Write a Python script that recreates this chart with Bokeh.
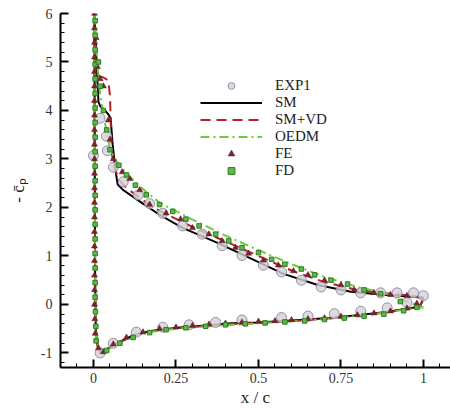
from bokeh.plotting import figure
from bokeh.models import Range1d, SingleIntervalTicker, Legend, LegendItem
from bokeh.embed import file_html
from bokeh.resources import INLINE

# ---- data ----
# SM (solid black): pressure side TE->LE, then suction side LE->TE
sm_x = [1.0, 0.99, 0.95, 0.88, 0.8, 0.73, 0.65, 0.576, 0.5, 0.42, 0.35, 0.27, 0.2, 0.17, 0.12, 0.07, 0.045,
        0.03, 0.02, 0.012, 0.007, 0.005, 0.004, 0.003,
        0.008, 0.012, 0.015, 0.021, 0.035, 0.045, 0.052, 0.058, 0.066, 0.073, 0.09, 0.12, 0.15, 0.2, 0.27,
        0.376, 0.476, 0.576, 0.68, 0.78, 0.88, 0.95, 1.0]
sm_cp = [0.14, -0.04, -0.09, -0.16, -0.22, -0.27, -0.31, -0.34, -0.37, -0.39, -0.43, -0.47, -0.52, -0.55, -0.64, -0.8, -0.9,
         -1.0, -0.99, -0.85, -0.5, 0.5, 2.5, 6.0,
         5.2, 4.6, 4.18, 4.08, 4.0, 3.92, 3.84, 3.3, 2.8, 2.48, 2.36, 2.22, 2.08, 1.85, 1.58,
         1.27, 0.95, 0.63, 0.40, 0.26, 0.2, 0.17, 0.14]

# SM+VD (red dashed)
vd_x = [1.0, 0.99, 0.95, 0.88, 0.8, 0.73, 0.65, 0.576, 0.5, 0.42, 0.35, 0.27, 0.2, 0.17, 0.12, 0.07, 0.045,
        0.03, 0.02, 0.012, 0.007, 0.005, 0.004, 0.002,
        0.006, 0.012, 0.02, 0.03, 0.045, 0.05, 0.053, 0.056, 0.06, 0.07, 0.08, 0.1, 0.13, 0.17, 0.2, 0.3,
        0.4, 0.5, 0.6, 0.7, 0.8, 0.9, 0.97, 1.0]
vd_cp = [0.12, -0.03, -0.1, -0.17, -0.23, -0.28, -0.32, -0.35, -0.38, -0.4, -0.44, -0.48, -0.53, -0.56, -0.65, -0.81, -0.91,
         -0.99, -0.98, -0.84, -0.5, 0.5, 2.5, 6.0,
         5.3, 4.75, 4.7, 4.68, 4.62, 4.3, 3.6, 3.1, 2.9, 2.7, 2.55, 2.4, 2.25, 2.05, 1.93, 1.6,
         1.3, 1.0, 0.7, 0.46, 0.3, 0.22, 0.18, 0.12]

# OEDM (green dash-dot)
oe_x = [1.0, 0.93, 0.85, 0.75, 0.65, 0.55, 0.45, 0.35, 0.25, 0.17, 0.12, 0.08, 0.05, 0.035, 0.025, 0.015,
        0.009, 0.006, 0.004, 0.003,
        0.008, 0.015, 0.03, 0.045, 0.05, 0.07, 0.1, 0.13, 0.16, 0.2, 0.3, 0.4, 0.5, 0.6, 0.7, 0.8, 0.88,
        0.95, 1.0]
oe_cp = [-0.06, -0.12, -0.2, -0.27, -0.33, -0.37, -0.41, -0.45, -0.5, -0.57, -0.66, -0.78, -0.9, -0.97, -1.0, -0.95,
         -0.7, -0.2, 2.0, 6.0,
         5.5, 4.6, 3.9, 3.4, 3.2, 2.95, 2.7, 2.5, 2.32, 2.1, 1.75, 1.42, 1.12, 0.83, 0.57, 0.36, 0.24,
         0.06, -0.06]

# EXP1 (circles)
exp_x = [0.0, 0.02, 0.039, 0.042, 0.06, 0.09, 0.136, 0.17, 0.21, 0.27, 0.33, 0.39, 0.45, 0.515, 0.57, 0.63,
         0.69, 0.75, 0.81, 0.87, 0.92, 0.97, 1.0,
         0.02, 0.06, 0.13, 0.21, 0.29, 0.37, 0.45, 0.57, 0.65, 0.73, 0.81, 0.89, 0.95]
exp_cp = [3.07, 3.84, 3.47, 3.17, 2.83, 2.53, 2.26, 2.08, 1.88, 1.62, 1.45, 1.21, 1.01, 0.81, 0.67, 0.5,
          0.36, 0.3, 0.24, 0.24, 0.24, 0.24, 0.18,
          -1.0, -0.8, -0.57, -0.47, -0.42, -0.37, -0.32, -0.27, -0.24, -0.19, -0.14, -0.07, 0.04]

# FE (triangles)
fe_x = [0.003, 0.003, 0.003, 0.003, 0.003, 0.003, 0.003, 0.003, 0.003, 0.003, 0.003, 0.003, 0.003, 0.003,
        0.003, 0.003, 0.003, 0.003, 0.003, 0.003, 0.003, 0.004, 0.005,
        0.008, 0.012, 0.02, 0.03, 0.045, 0.05,
        0.06, 0.087, 0.11, 0.14, 0.17, 0.22, 0.264, 0.30, 0.35, 0.39, 0.43, 0.47, 0.515, 0.56, 0.606,
        0.65, 0.70, 0.75, 0.79, 0.85, 0.9, 0.95,
        0.015, 0.03, 0.06, 0.1, 0.15, 0.2, 0.25, 0.3, 0.35, 0.4, 0.45, 0.5, 0.55, 0.6, 0.65, 0.7, 0.75,
        0.8, 0.85, 0.9, 0.95, 0.98]
fe_cp = [6.0, 5.7, 5.4, 5.1, 4.8, 4.5, 4.2, 3.9, 3.6, 3.3, 3.0, 2.7, 2.4, 2.1,
         1.8, 1.5, 1.2, 0.9, 0.6, 0.3, 0.0, -0.3, -0.6,
         5.5, 4.9, 4.65, 4.5, 3.8, 3.4,
         3.0, 2.73, 2.59, 2.36, 2.06, 1.88, 1.76, 1.58, 1.45, 1.31, 1.17, 1.05, 0.91, 0.81, 0.69,
         0.61, 0.5, 0.4, 0.3, 0.24, 0.2, 0.18,
         -0.9, -0.98, -0.82, -0.68, -0.57, -0.5, -0.47, -0.44, -0.41, -0.39, -0.37, -0.35, -0.34, -0.32, -0.3, -0.28, -0.25,
         -0.22, -0.18, -0.14, -0.08, 0.02]

# FD (squares)
fd_x = [0.005, 0.005, 0.005, 0.005, 0.005, 0.005, 0.005, 0.005, 0.005, 0.005, 0.005, 0.005, 0.005, 0.005,
        0.005, 0.005, 0.005, 0.005, 0.005, 0.005, 0.006, 0.007, 0.008,
        0.015, 0.02, 0.03, 0.04, 0.05, 0.077, 0.1, 0.127, 0.16,
        0.2, 0.24, 0.28, 0.32, 0.37, 0.41, 0.45, 0.5, 0.54, 0.58, 0.63, 0.67, 0.72, 0.77, 0.82, 0.87,
        0.93, 0.98,
        0.04, 0.08, 0.12, 0.17, 0.22, 0.28, 0.34, 0.4, 0.46, 0.52, 0.58, 0.64, 0.7, 0.76, 0.82, 0.88, 0.94]
fd_cp = [5.85, 5.55, 5.25, 4.95, 4.65, 4.35, 4.05, 3.75, 3.45, 3.15, 2.85, 2.55, 2.25, 1.95,
         1.65, 1.35, 1.05, 0.75, 0.45, 0.15, -0.15, -0.45, -0.75,
         5.0, 4.5, 4.0, 3.6, 3.19, 2.87, 2.67, 2.46, 2.26,
         2.06, 1.92, 1.76, 1.62, 1.45, 1.31, 1.17, 1.07, 0.93, 0.83, 0.73, 0.61, 0.5, 0.42, 0.3, 0.22,
         0.06, -0.06,
         -0.95, -0.8, -0.68, -0.58, -0.52, -0.48, -0.45, -0.42, -0.4, -0.38, -0.36, -0.34, -0.31, -0.28, -0.24, -0.2, -0.13]

x_ticks = [0, 0.25, 0.5, 0.75, 1]
x_tick_labels = ["0", "0.25", "0.5", "0.75", "1"]
y_ticks = [-1, 0, 1, 2, 3, 4, 5, 6]
y_tick_labels = ["-1", "0", "1", "2", "3", "4", "5", "6"]

SERIF = "Liberation Serif"

p = figure(width=450, height=409, output_backend="svg", toolbar_location=None,
           x_range=Range1d(-0.1, 1.082), y_range=Range1d(-1.3, 6.0),
           min_border_left=60, min_border_right=0, min_border_top=13, min_border_bottom=34)
p.outline_line_color = None
p.grid.visible = False
p.background_fill_color = "white"

l_sm = p.line(sm_x, sm_cp, line_color="black", line_width=2)
l_vd = p.line(vd_x, vd_cp, line_color="#b3202c", line_width=2, line_dash="10 6")
l_oe = p.line(oe_x, oe_cp, line_color="#6acd3c", line_width=2, line_dash="9 4 2 4")
m_exp = p.scatter(exp_x, exp_cp, marker="circle", size=10, fill_color="#d2d2d2",
                  line_color="#9c8cad", line_width=1, fill_alpha=0.8)
m_fe = p.scatter(fe_x, fe_cp, marker="triangle", size=6, fill_color="#7a2430",
                 line_color="#5a1a22", line_width=0.5)
m_fd = p.scatter(fd_x, fd_cp, marker="square", size=4.5, fill_color="#5cb848",
                 line_color="#2f7a25", line_width=1)

for ax in (p.xaxis[0], p.yaxis[0]):
    ax.axis_line_color = "black"
    ax.axis_line_width = 2
    ax.major_tick_in = 8
    ax.major_tick_out = 0
    ax.minor_tick_in = 4
    ax.minor_tick_out = 0
    ax.major_tick_line_width = 2
    ax.minor_tick_line_width = 1
    ax.major_label_text_font = SERIF
    ax.major_label_text_font_size = "14px"
    ax.major_label_text_color = "#333333"
    ax.axis_label_text_font = SERIF
    ax.axis_label_text_font_style = "normal"
    ax.axis_label_text_color = "#222222"

p.xaxis.ticker = SingleIntervalTicker(interval=0.25, num_minor_ticks=5)
p.yaxis.ticker = SingleIntervalTicker(interval=1, num_minor_ticks=5)
p.xaxis.major_label_overrides = dict(zip(x_ticks, x_tick_labels))
p.yaxis.major_label_overrides = dict(zip(y_ticks, y_tick_labels))
p.xaxis.axis_label = "x / c"
p.xaxis.axis_label_text_font_size = "17px"
p.xaxis.axis_label_standoff = 2
p.xaxis.major_label_standoff = 5
p.yaxis.axis_label = "- c\u0304\u209a"
p.yaxis.axis_label_text_font_size = "17px"
p.yaxis.axis_label_standoff = 10
p.yaxis.major_label_standoff = 8

legend = Legend(items=[
    LegendItem(label="EXP1", renderers=[m_exp]),
    LegendItem(label="SM", renderers=[l_sm]),
    LegendItem(label="SM+VD", renderers=[l_vd]),
    LegendItem(label="OEDM", renderers=[l_oe]),
    LegendItem(label="FE", renderers=[m_fe]),
    LegendItem(label="FD", renderers=[m_fd]),
], location=(140, 188))
legend.border_line_color = None
legend.background_fill_alpha = 0
legend.label_text_font = SERIF
legend.label_text_font_size = "15px"
legend.label_text_color = "#222222"
legend.glyph_width = 62
legend.glyph_height = 17
legend.label_height = 17
legend.label_standoff = 13
legend.spacing = 0
legend.padding = 4
legend.margin = 0
p.add_layout(legend, "center")

open("out.html", "w").write(file_html(p, INLINE))
